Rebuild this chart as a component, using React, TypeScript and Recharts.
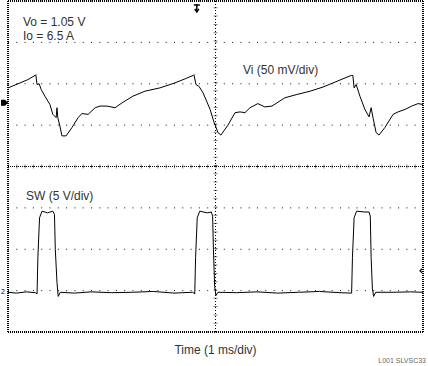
import React from 'react';
import { LineChart, Line, XAxis, YAxis, CartesianGrid, ReferenceLine, ReferenceDot } from 'recharts';

// Vi ripple, ms vs mV (relative to the ch1 marker)
const viTime = [
  0, 0.1, 0.29, 0.48, 0.65, 0.67, 0.7, 0.75, 0.8, 0.89, 1.01, 1.08, 1.16, 1.18, 1.2, 1.25, 1.3, 1.4,
  1.54, 1.69, 1.78, 1.93, 2.1, 2.22, 2.39, 2.58, 2.75, 3.01, 3.3, 3.66, 4.02, 4.27, 4.46, 4.48, 4.53,
  4.6, 4.7, 4.87, 4.96, 5.06, 5.13, 5.3, 5.47, 5.59, 5.71, 5.83, 6.02, 6.19, 6.36, 6.67, 6.96, 7.28,
  7.59, 7.88, 8.12, 8.27, 8.31, 8.34, 8.39, 8.48, 8.6, 8.7, 8.75, 8.8, 8.87, 8.94, 9.08, 9.28, 9.4,
  9.57, 9.73, 9.88, 10,
];
const viMv = [
  18, 20, 24, 28, 33, 34, 22, 23, 16, 8, -2, -14, -18, -6, -18, -28, -40, -40,
  -30, -18, -13, -14, -6, -4, -4, -6, 0, 8, 14, 18, 24, 29, 33, 34, 22,
  20, 12, -8, -23, -36, -39, -27, -12, -11, -12, -6, -1, -5, -4, 6, 10, 14,
  19, 25, 30, 33, 33, 18, 22, 8, -8, -17, -6, -19, -36, -39, -30, -14, -11,
  -8, -4, -1, -2,
];

// SW node, ms vs V
const swTime = [
  0, 0.2, 0.45, 0.66, 0.7, 0.72, 0.76, 0.82, 0.95, 1.08, 1.12, 1.14, 1.18, 1.21, 1.26,
  1.6, 2.0, 2.5, 3.0, 3.5, 4.0, 4.45, 4.5, 4.52, 4.56, 4.62, 4.8, 4.9, 4.93, 4.95, 4.98, 5.01, 5.06,
  5.5, 6.0, 6.5, 7.0, 7.5, 8.0, 8.28, 8.3, 8.34, 8.4, 8.6, 8.7, 8.73, 8.75, 8.78, 8.81, 8.86,
  9.3, 9.7, 10,
];
const swVolt = [
  -0.2, -0.3, -0.15, -0.25, -0.4, 4.0, 8.8, 9.6, 9.4, 9.6, 9.2, 5.0, 1.0, -0.7, -0.2,
  -0.3, -0.15, -0.25, -0.2, -0.1, -0.3, -0.2, -0.4, 4.0, 8.8, 9.6, 9.4, 9.5, 9.0, 5.0, 0.5, -0.6, -0.2,
  -0.25, -0.15, -0.3, -0.2, -0.1, -0.25, -0.3, 4.0, 8.8, 9.6, 9.5, 9.5, 9.0, 4.0, 0.3, -0.7, -0.2,
  -0.2, -0.15, -0.2,
];

const timeTicks = [0, 1, 2, 3, 4, 5, 6, 7, 8, 9, 10];
const divisions = [-4, -3, -2, -1, 0, 1, 2, 3, 4];

// scope settings: 50 mV/div and 5 V/div, 8 divisions tall
const VI_PER_DIV = 50;
const VI_CENTER = -77; // ch1 marker sits ~1.54 div above center
const SW_PER_DIV = 5;
const SW_CENTER = 15; // ch2 marker 3 div below center
const triggerTime = 4.55;
const triggerLevel = 2.4;

const viTicks = divisions.map((d) => VI_CENTER + d * VI_PER_DIV);
const viTop = VI_CENTER + 4 * VI_PER_DIV;
const viBottom = VI_CENTER - 4 * VI_PER_DIV;

const viData = viTime.map((t, i) => ({ t, v: viMv[i] }));
const swData = swTime.map((t, i) => ({ t, v: swVolt[i] }));

const FONT = '"Liberation Sans", Arial, sans-serif';

const ch1Marker = (p: any) => (
  <path
    d={`M${p.cx - 7},${p.cy - 3} L${p.cx - 3},${p.cy - 3} L${p.cx},${p.cy} L${p.cx - 3},${p.cy + 3} L${p.cx - 7},${p.cy + 3} Z`}
    fill="#000"
  />
);
const ch2Marker = (p: any) => (
  <text x={p.cx - 7} y={p.cy + 3} fontSize={7} fontFamily={FONT} fill="#000">2</text>
);
const trigMarker = (p: any) => (
  <g stroke="#000" strokeWidth={1.5} fill="none">
    <path d={`M${p.cx - 3},${p.cy + 4} L${p.cx + 3},${p.cy + 4}`} />
    <path d={`M${p.cx},${p.cy + 3} L${p.cx},${p.cy + 11}`} />
    <path d={`M${p.cx - 2},${p.cy + 8} L${p.cx},${p.cy + 11} L${p.cx + 2},${p.cy + 8}`} />
  </g>
);
const levelMarker = (p: any) => (
  <path d={`M${p.cx - 1},${p.cy - 2} L${p.cx - 3},${p.cy} L${p.cx - 1},${p.cy + 2}`} stroke="#000" strokeWidth={1.2} fill="none" />
);

const txt: React.CSSProperties = {
  position: 'absolute',
  fontFamily: FONT,
  fontSize: 12,
  lineHeight: '12px',
  color: '#333',
  whiteSpace: 'nowrap',
};

export default function App() {
  return (
    <div style={{ position: 'absolute', left: 0, top: 0, width: 428, height: 366, background: '#fff' }}>
      <LineChart width={428} height={366} margin={{ top: 1, right: 5, left: 8, bottom: 0 }}>
        <XAxis
          dataKey="t"
          type="number"
          domain={[0, 10]}
          ticks={timeTicks}
          tick={false}
          tickLine={false}
          axisLine={false}
          height={34}
          label={{ value: 'Time (1 ms/div)', position: 'insideTop', offset: 13, fill: '#333', fontSize: 12, fontFamily: FONT }}
        />
        <YAxis yAxisId="vi" type="number" domain={[viBottom, viTop]} ticks={viTicks} hide allowDataOverflow />
        <YAxis yAxisId="sw" type="number" domain={[SW_CENTER - 4 * SW_PER_DIV, SW_CENTER + 4 * SW_PER_DIV]} hide allowDataOverflow />
        <CartesianGrid yAxisId="vi" stroke="#111" strokeDasharray="1 7.3" />
        {/* center graticule lines with minor ticks */}
        <ReferenceLine yAxisId="vi" y={VI_CENTER} stroke="#000" strokeDasharray="1 1" />
        <ReferenceLine yAxisId="vi" y={VI_CENTER} stroke="#000" strokeWidth={4} strokeDasharray="1 7.3" strokeOpacity={0.5} />
        <ReferenceLine yAxisId="vi" x={5} stroke="#000" strokeDasharray="1 2" />
        <ReferenceLine yAxisId="vi" x={5} stroke="#000" strokeWidth={4} strokeDasharray="1 7.3" strokeOpacity={0.5} />
        {/* frame */}
        <ReferenceLine yAxisId="vi" x={0} stroke="#000" strokeWidth={2} strokeDasharray="1 1" />
        <ReferenceLine yAxisId="vi" x={10} stroke="#000" strokeWidth={2} strokeDasharray="1 1" />
        <ReferenceLine yAxisId="vi" y={viTop} stroke="#000" strokeWidth={2} strokeDasharray="1 1" />
        <ReferenceLine yAxisId="vi" y={viBottom} stroke="#000" strokeWidth={2} strokeDasharray="1 1" />
        <Line
          yAxisId="vi"
          data={viData}
          dataKey="v"
          type="linear"
          stroke="#000"
          strokeWidth={1}
          dot={false}
          isAnimationActive={false}
        />
        <Line
          yAxisId="sw"
          data={swData}
          dataKey="v"
          type="linear"
          stroke="#000"
          strokeWidth={1}
          dot={false}
          isAnimationActive={false}
        />
        <ReferenceDot yAxisId="vi" x={0} y={0} ifOverflow="visible" shape={ch1Marker} />
        <ReferenceDot yAxisId="sw" x={0} y={0} ifOverflow="visible" shape={ch2Marker} />
        <ReferenceDot yAxisId="vi" x={triggerTime} y={viTop} ifOverflow="visible" shape={trigMarker} />
        <ReferenceDot yAxisId="sw" x={10} y={triggerLevel} ifOverflow="visible" shape={levelMarker} />
      </LineChart>
      <div style={{ ...txt, left: 23, top: 16 }}>Vo = 1.05 V</div>
      <div style={{ ...txt, left: 23, top: 30 }}>Io = 6.5 A</div>
      <div style={{ ...txt, left: 243, top: 64 }}>Vi (50 mV/div)</div>
      <div style={{ ...txt, left: 26, top: 190 }}>SW (5 V/div)</div>
      <div style={{ ...txt, fontSize: 7, lineHeight: '7px', color: '#666', right: 2, top: 357 }}>L001  SLVSC33</div>
    </div>
  );
}
